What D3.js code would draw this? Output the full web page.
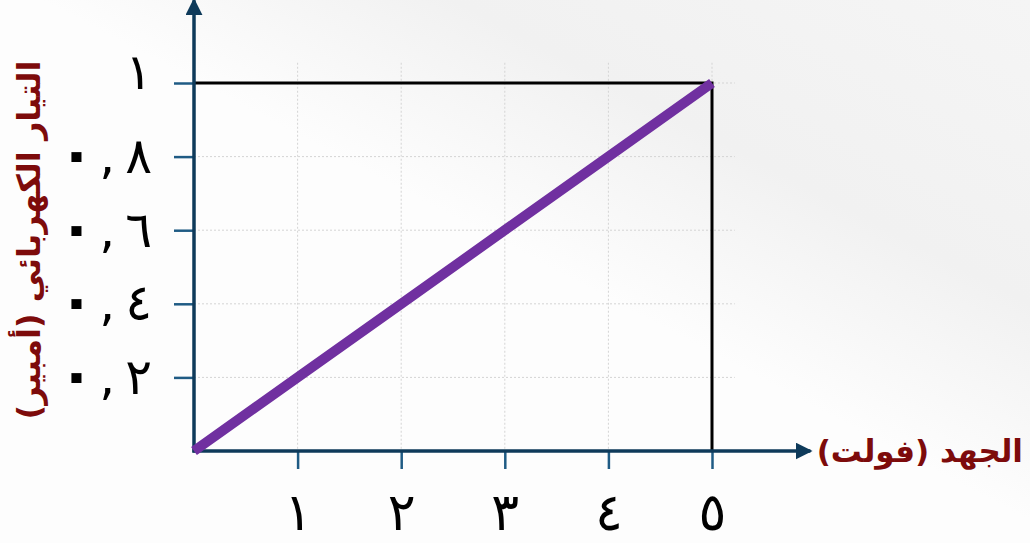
<!DOCTYPE html>
<html>
<head>
<meta charset="utf-8">
<script src="https://cdn.jsdelivr.net/npm/d3@7"></script>
<style>
  html, body { margin: 0; padding: 0; background: #fff; }
  svg { display: block; }
</style>
</head>
<body>
<svg id="graphe"></svg>
<script>
// courbe tension / courant (loi d'Ohm)
const voltage = [0, 1, 2, 3, 4, 5];
const current = [0, 0.2, 0.4, 0.6, 0.8, 1];
const xTicks = [1, 2, 3, 4, 5];
const yTicks = [0.2, 0.4, 0.6, 0.8, 1];
const xTitle = "الجهد (فولت)";
const yTitle = "التيار الكهربائي (أمبير)";
const digits = "٠١٢٣٤٥٦٧٨٩";

const width = 1030, height = 543;

const toArabic = n => String(n).split("").map(c => c === "." ? "," : (digits[+c] ?? c)).join("");

const svg = d3.select("#graphe")
  .attr("width", width)
  .attr("height", height);

// fond legerement gris a droite
const defs = svg.append("defs");
const grad = defs.append("linearGradient")
  .attr("id", "fond")
  .attr("x1", "0%").attr("y1", "100%")
  .attr("x2", "100%").attr("y2", "0%");
grad.append("stop").attr("offset", "52%").attr("stop-color", "#fdfdfd");
grad.append("stop").attr("offset", "72%").attr("stop-color", "#f1f1f1");
grad.append("stop").attr("offset", "100%").attr("stop-color", "#f5f5f5");
svg.append("rect").attr("width", width).attr("height", height).attr("fill", "url(#fond)");

defs.append("marker")
  .attr("id", "fleche")
  .attr("markerUnits", "userSpaceOnUse")
  .attr("viewBox", "0 0 16 16")
  .attr("refX", 14).attr("refY", 8)
  .attr("markerWidth", 17).attr("markerHeight", 17)
  .attr("orient", "auto")
  .append("path")
  .attr("d", "M0,0 L16,8 L0,16 Z")
  .attr("fill", "#0e3a5a");

const x = d3.scaleLinear().domain([0, 5]).range([194, 712]);
const y = d3.scaleLinear().domain([0, 1]).range([451, 83]);

// grille pointillee
const grid = svg.append("g").attr("stroke", "#d4d4d4").attr("stroke-width", 1).attr("stroke-dasharray", "2,2");
grid.selectAll(".gv").data(xTicks).join("line")
  .attr("x1", d => x(d)).attr("x2", d => x(d))
  .attr("y1", y(1.055)).attr("y2", y(0));
grid.selectAll(".gh").data(yTicks).join("line")
  .attr("x1", x(0)).attr("x2", x(5.22))
  .attr("y1", d => y(d)).attr("y2", d => y(d));

// lignes de lecture
svg.append("path")
  .attr("d", `M${x(0)},${y(1)} H${x(5)} V${y(0)}`)
  .attr("fill", "none")
  .attr("stroke", "#000")
  .attr("stroke-width", 3);

// axes
const xAxis = d3.axisBottom(x)
  .tickValues(xTicks)
  .tickSize(18)
  .tickPadding(24)
  .tickFormat(toArabic);
const gx = svg.append("g").attr("transform", `translate(0,${y(0)})`).call(xAxis);
gx.select(".domain").remove();

const yAxis = d3.axisLeft(y)
  .tickValues(yTicks)
  .tickSize(20)
  .tickPadding(22)
  .tickFormat(toArabic);
const gy = svg.append("g").attr("transform", `translate(${x(0)},0)`).call(yAxis);
gy.select(".domain").remove();

[gx, gy].forEach(g => {
  g.selectAll(".tick line").attr("stroke", "#1f5b84").attr("stroke-width", 2.5);
  g.selectAll(".tick text")
    .attr("fill", "#000")
    .style("font-family", "DejaVu Sans");
});
gx.selectAll(".tick text").style("font-size", "52px");

// etiquettes y : zero, virgule, chiffre
gy.selectAll(".tick text")
  .style("font-size", "50px")
  .attr("direction", "ltr")
  .style("unicode-bidi", "bidi-override")
  .each(function(d) {
    const t = d3.select(this);
    if (d === 1) { t.attr("dy", "0.1em").attr("x", -42); return; }
    const s = toArabic(d);
    t.text(null);
    t.append("tspan").style("font-size", "58px").style("font-weight", "bold").text(s[0]);
    t.append("tspan").attr("dx", 5).text(s[1]);
    t.append("tspan").attr("dx", 10).text(s.slice(2));
  });

svg.append("line")
  .attr("x1", x(0)).attr("y1", y(0) + 1.5)
  .attr("x2", x(0)).attr("y2", y(1.225))
  .attr("stroke", "#0e3a5a").attr("stroke-width", 3.5)
  .attr("marker-end", "url(#fleche)");
svg.append("line")
  .attr("x1", x(0) - 1.5).attr("y1", y(0))
  .attr("x2", x(5.95)).attr("y2", y(0))
  .attr("stroke", "#0e3a5a").attr("stroke-width", 3.5)
  .attr("marker-end", "url(#fleche)");

// droite I = f(U)
const line = d3.line().x(d => x(d[0])).y(d => y(d[1]));
svg.append("path")
  .datum(d3.zip(voltage, current))
  .attr("d", line)
  .attr("fill", "none")
  .attr("stroke", "#7030a0")
  .attr("stroke-width", 10);

// titres des axes
svg.append("text")
  .attr("x", 1023).attr("y", y(0) + 11)
  .attr("text-anchor", "end")
  .attr("fill", "#7d0b0b")
  .style("font-family", "DejaVu Sans")
  .style("font-weight", "bold")
  .style("font-size", "31px")
  .text(xTitle);

svg.append("text")
  .attr("transform", `translate(40,${(y(0) + y(1)) / 2 - 27}) rotate(-90)`)
  .attr("text-anchor", "middle")
  .attr("fill", "#7d0b0b")
  .style("font-family", "DejaVu Sans")
  .style("font-weight", "bold")
  .style("font-size", "32px")
  .text(yTitle);
</script>
</body>
</html>
